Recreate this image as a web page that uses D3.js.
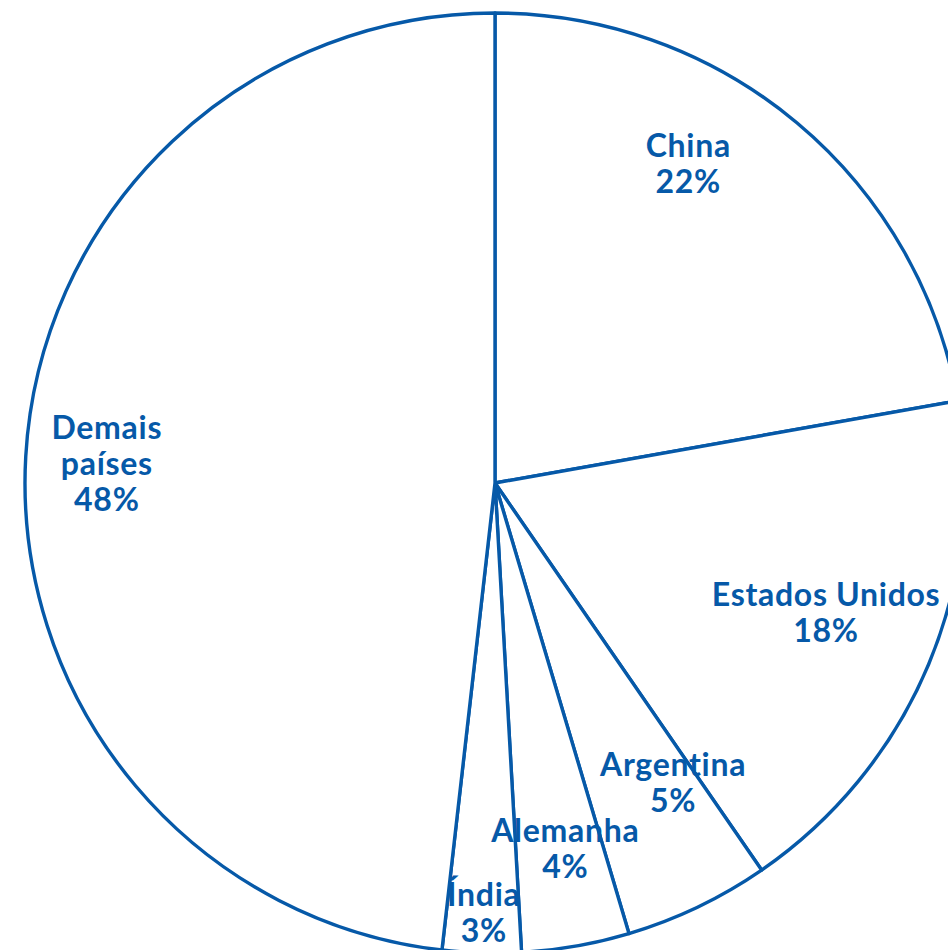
<!DOCTYPE html>
<html>
<head>
<meta charset="utf-8">
<script src="https://cdn.jsdelivr.net/npm/d3@7"></script>
<style>
  html, body { margin: 0; padding: 0; background: #ffffff; overflow: hidden; }
  svg { display: block; }
</style>
</head>
<body>
<script>
// ---- data ----
const categories = ["China", "Estados Unidos", "Argentina", "Alemanha", "Índia", "Demais países"];
const values = [22.2, 18.2, 5.0, 3.7, 2.7, 48.2];
const percentLabels = ["22%", "18%", "5%", "4%", "3%", "48%"];
const nameLines = [["China"], ["Estados Unidos"], ["Argentina"], ["Alemanha"], ["Índia"], ["Demais", "países"]];

// ---- layout (not data) ----
const W = 948, H = 950;
const cx = 495, cy = 483, R = 470;
const blue = "#0659a8";
const labelLayout = [
  { rf: 0.794, da: -8.76 },
  { rf: 0.756, da: -1.38 },
  { rf: 0.742, da: -5.14 },
  { rf: 0.791, da: -1.0 },
  { rf: 0.915, da: -0.12 },
  { rf: 0.827, da: -0.29 }
];
const fontSize = 32, lineH = 36;

const svg = d3.select("body").append("svg").attr("width", W).attr("height", H);
svg.append("rect").attr("width", W).attr("height", H).attr("fill", "#fff");

const g = svg.append("g").attr("transform", `translate(${cx},${cy})`);

const pie = d3.pie().sort(null).value(d => d.value);
const data = categories.map((c, i) => ({ name: c, value: values[i], pct: percentLabels[i], lines: nameLines[i], lay: labelLayout[i] }));
const arcs = pie(data);

const arc = d3.arc().innerRadius(0).outerRadius(R);

g.selectAll("path.slice").data(arcs).join("path")
  .attr("class", "slice")
  .attr("d", arc)
  .attr("fill", "#ffffff")
  .attr("stroke", blue)
  .attr("stroke-width", 3.4)
  .attr("stroke-linejoin", "round");

g.selectAll("text.lbl").data(arcs).join("text")
  .attr("class", "lbl")
  .attr("text-anchor", "middle")
  .attr("font-family", "Lato, 'Open Sans', sans-serif")
  .attr("font-weight", 700)
  .attr("font-size", fontSize)
  .attr("letter-spacing", "0.7px")
  .attr("fill", blue)
  .each(function(d) {
    const mid = (d.startAngle + d.endAngle) / 2 + d.data.lay.da * Math.PI / 180;
    const r = d.data.lay.rf * R;
    const x = r * Math.sin(mid);
    const y = -r * Math.cos(mid);
    const lines = d.data.lines.concat([d.data.pct]);
    const n = lines.length;
    const t = d3.select(this);
    lines.forEach((ln, i) => {
      t.append("tspan")
        .attr("x", x)
        .attr("y", y + (i - (n - 1) / 2) * lineH)
        .attr("dy", "0.36em")
        .text(ln);
    });
  });
</script>
</body>
</html>
